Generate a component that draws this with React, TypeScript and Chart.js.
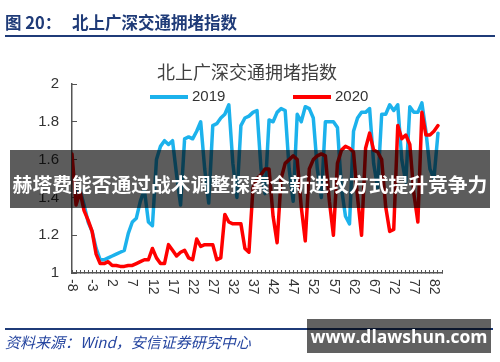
import React, { useEffect, useRef } from 'react';
import { Chart, registerables } from 'chart.js';

Chart.register(...registerables);

// Days relative to the Spring Festival
const FIRST_DAY = -8;
const AXIS_MIN = -8;
const AXIS_MAX = 84;

const SERIES_2019 = [
  1.58, 1.42, 1.44, 1.36, 1.27, 1.22, 1.13, 1.07,
  1.07, 1.08, 1.09, 1.10, 1.11, 1.12, 1.21,
  1.27, 1.29, 1.38, 1.44, 1.27, 1.25, 1.60,
  1.67, 1.70, 1.68, 1.70, 1.52, 1.36, 1.71,
  1.72, 1.71, 1.75, 1.80, 1.55, 1.37, 1.78,
  1.79, 1.82, 1.84, 1.89, 1.58, 1.40, 1.78,
  1.82, 1.83, 1.85, 1.86, 1.55, 1.42, 1.81,
  1.80, 1.85, 1.87, 1.86, 1.55, 1.38, 1.84,
  1.80, 1.88, 1.87, 1.82, 1.55, 1.40, 1.80,
  1.80, 1.80, 1.77, 1.45, 1.30, 1.26, 1.75,
  1.82, 1.85, 1.85, 1.87, 1.58, 1.45, 1.84,
  1.84, 1.89, 1.86, 1.89, 1.60, 1.48, 1.88,
  1.85, 1.85, 1.90, 1.75, 1.55, 1.50, 1.74,
];

const SERIES_2020 = [
  1.63, 1.36, 1.43, 1.33, 1.28, 1.22, 1.10, 1.05,
  1.05, 1.06, 1.04, 1.04, 1.035, 1.035, 1.04,
  1.04, 1.05, 1.06, 1.07, 1.07, 1.13, 1.08,
  1.05, 1.05, 1.15, 1.12, 1.09, 1.11, 1.12,
  1.08, 1.07, 1.18, 1.14, 1.15, 1.15, 1.15,
  1.07, 1.08, 1.31, 1.27, 1.26, 1.26, 1.26,
  1.13, 1.11, 1.45, 1.50, 1.52, 1.55, 1.55,
  1.30, 1.16, 1.50, 1.58, 1.60, 1.62, 1.60,
  1.35, 1.17, 1.55, 1.60, 1.62, 1.63, 1.62,
  1.38, 1.20, 1.58, 1.65, 1.67, 1.66, 1.64,
  1.40, 1.20, 1.66, 1.74, 1.65, 1.64, 1.60,
  1.35, 1.22, 1.23, 1.78, 1.71, 1.73, 1.68,
  1.42, 1.27, 1.85, 1.73, 1.73, 1.75, 1.78,
];

const X_TICK_LABELS = ['-8', '-3', '2', '7', '12', '17', '22', '27', '32', '37', '42', '47', '52', '57', '62', '67', '72', '77', '82'];
const Y_MIN = 1;
const Y_MAX = 2;
const Y_STEP = 0.2;

const SERIES_NAMES = ['2019', '2020'];
const CHART_TITLE = '北上广深交通拥堵指数';
const HEADER_NUM = '图 20：';
const HEADER_TEXT = '北上广深交通拥堵指数';
const SOURCE = '资料来源：Wind，安信证券研究中心';
const BANNER = '赫塔费能否通过战术调整探索全新进攻方式提升竞争力';
const SITE = 'www.dlawshun.com';

const BLUE = '#1CB2EC';
const RED = '#FF0000';
const NAVY = '#1F3B78';
const LATIN = '"Liberation Sans", Arial, sans-serif';
const CJK = '"Noto Sans CJK SC", "Noto Sans", sans-serif';

const toPoints = (arr: number[]) => arr.map((v, i) => ({ x: FIRST_DAY + i, y: v }));

const decorPlugin = {
  id: 'decor',
  afterDraw(chart: any) {
    const { ctx, chartArea } = chart;
    const xs = chart.scales.x;
    ctx.save();
    // x tick labels, rotated clockwise
    ctx.font = `14px ${LATIN}`;
    ctx.fillStyle = '#333';
    X_TICK_LABELS.forEach((lbl) => {
      const px = xs.getPixelForValue(Number(lbl));
      ctx.save();
      ctx.translate(px, chartArea.bottom + 6);
      ctx.rotate(Math.PI / 2);
      ctx.textAlign = 'left';
      ctx.textBaseline = 'middle';
      ctx.fillText(lbl, 0, 0);
      ctx.restore();
    });
    // title
    ctx.font = `18px ${CJK}`;
    ctx.fillStyle = '#404040';
    ctx.textAlign = 'center';
    ctx.textBaseline = 'middle';
    ctx.fillText(CHART_TITLE, 247, 72);
    // legend
    const items = [
      { name: SERIES_NAMES[0], color: BLUE, x: 150 },
      { name: SERIES_NAMES[1], color: RED, x: 293 },
    ];
    items.forEach((it) => {
      ctx.strokeStyle = it.color;
      ctx.lineWidth = 4;
      ctx.lineCap = 'butt';
      ctx.beginPath();
      ctx.moveTo(it.x, 97);
      ctx.lineTo(it.x + 38, 97);
      ctx.stroke();
      ctx.font = `15px ${LATIN}`;
      ctx.fillStyle = '#333';
      ctx.textAlign = 'left';
      ctx.textBaseline = 'middle';
      ctx.fillText(it.name, it.x + 42, 97);
    });
    ctx.restore();
  },
};

export default function App() {
  const ref = useRef<HTMLCanvasElement | null>(null);

  useEffect(() => {
    if (!ref.current) return;
    const chart = new Chart(ref.current, {
      type: 'line',
      data: {
        datasets: [
          {
            label: SERIES_NAMES[1],
            data: toPoints(SERIES_2020),
            borderColor: RED,
            backgroundColor: RED,
            borderWidth: 3.5,
            pointRadius: 0,
            tension: 0,
            borderJoinStyle: 'round',
            borderCapStyle: 'round',
            order: 0,
          },
          {
            label: SERIES_NAMES[0],
            data: toPoints(SERIES_2019),
            borderColor: BLUE,
            backgroundColor: BLUE,
            borderWidth: 3.5,
            pointRadius: 0,
            tension: 0,
            borderJoinStyle: 'round',
            borderCapStyle: 'round',
            order: 1,
          },
        ],
      },
      options: {
        responsive: false,
        animation: false,
        devicePixelRatio: 1,
        layout: { padding: { top: 84, right: 58, bottom: 0, left: 0 } },
        plugins: {
          legend: { display: false },
          title: { display: false },
          tooltip: { enabled: false },
        },
        scales: {
          x: {
            type: 'linear',
            min: AXIS_MIN,
            max: AXIS_MAX,
            ticks: { stepSize: 1, display: false, maxTicksLimit: 500 },
            grid: { drawOnChartArea: false, drawTicks: true, tickLength: -3, color: '#555', lineWidth: 1 },
            border: { display: true, color: '#555', width: 1.5 },
            afterFit: (s: any) => { s.height = 89; },
          },
          y: {
            min: Y_MIN,
            max: Y_MAX,
            ticks: {
              stepSize: Y_STEP,
              padding: 18,
              color: '#333',
              font: { family: LATIN, size: 15 },
              callback: (v: any) => String(Math.round(Number(v) * 10) / 10),
            },
            grid: { drawOnChartArea: false, drawTicks: true, tickLength: -5, color: '#555', lineWidth: 1 },
            border: { display: true, color: '#555', width: 1.5 },
            afterFit: (s: any) => { s.width = 72; },
          },
        },
      },
      plugins: [decorPlugin],
    } as any);
    return () => chart.destroy();
  }, []);

  return (
    <div style={{ position: 'fixed', left: 0, top: 0, width: 500, height: 362, background: '#fff', overflow: 'hidden' }}>
      <canvas ref={ref} width={500} height={362} style={{ position: 'absolute', left: 0, top: 0, width: 500, height: 362 }} />
      <div style={{ position: 'absolute', left: 5, top: 11, fontFamily: CJK, fontWeight: 700, fontSize: 16.5, lineHeight: '22px', color: NAVY, whiteSpace: 'nowrap' }}>
        {HEADER_NUM}
      </div>
      <div style={{ position: 'absolute', left: 72, top: 11, fontFamily: CJK, fontWeight: 700, fontSize: 16.5, lineHeight: '22px', color: NAVY, whiteSpace: 'nowrap' }}>
        {HEADER_TEXT}
      </div>
      <div style={{ position: 'absolute', left: 5, top: 35, width: 490, height: 2, background: NAVY }} />
      <div style={{ position: 'absolute', left: 5, top: 328, width: 488, height: 1.5, background: NAVY }} />
      <div style={{ position: 'absolute', left: 5, top: 332, fontFamily: CJK, fontStyle: 'italic', fontSize: 15, lineHeight: '20px', color: '#2646A0', whiteSpace: 'nowrap' }}>
        {SOURCE}
      </div>
      <div style={{ position: 'absolute', left: 10, top: 150, width: 480, height: 58, background: 'rgba(0,0,0,0.64)', overflow: 'hidden' }}>
        <div style={{ position: 'absolute', left: 0, top: 20, width: 480, textAlign: 'center', fontFamily: CJK, fontWeight: 700, fontSize: 19.8, lineHeight: '28px', color: '#fff', whiteSpace: 'nowrap' }}>{BANNER}</div>
      </div>
      <div style={{ position: 'absolute', left: 307, top: 319, width: 184, height: 34, background: 'rgba(0,0,0,0.62)', display: 'flex', alignItems: 'center', justifyContent: 'center' }}>
        <span style={{ fontFamily: '"Open Sans", "Liberation Sans", sans-serif', fontWeight: 700, fontSize: 17.5, color: '#fff', whiteSpace: 'nowrap' }}>{SITE}</span>
      </div>
    </div>
  );
}
